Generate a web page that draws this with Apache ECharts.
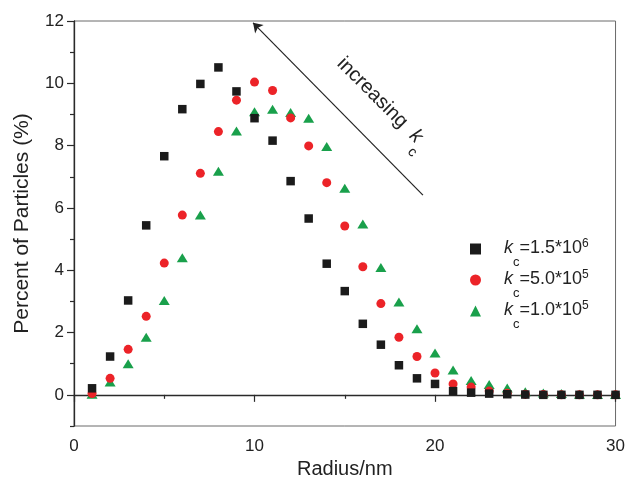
<!DOCTYPE html>
<html>
<head>
<meta charset="utf-8">
<script src="https://cdn.jsdelivr.net/npm/echarts@6/dist/echarts.min.js"></script>
<style>
  html, body { margin: 0; padding: 0; background: #fff; }
  #chart { width: 628px; height: 486px; }
</style>
</head>
<body>
<div id="chart"></div>
<script>
// Radius (nm) of each size bin
const radius = [1, 2, 3, 4, 5, 6, 7, 8, 9, 10, 11, 12, 13, 14, 15, 16, 17, 18, 19, 20,
                21, 22, 23, 24, 25, 26, 27, 28, 29, 30];

// Percent of particles for each coagulation constant k_c
const pctKc15e6 = [0.21, 1.23, 3.03, 5.44, 7.66, 9.17, 9.98, 10.51, 9.74, 8.88, 8.16, 6.86, 5.66, 4.21, 3.33,
                   2.28, 1.61, 0.95, 0.53, 0.35, 0.12, 0.07, 0.04, 0.02, 0.01, 0.0, 0.0, 0.0, 0.0, 0.0];
const pctKc50e5 = [0.04, 0.53, 1.46, 2.52, 4.23, 5.77, 7.11, 8.45, 9.46, 10.04, 9.77, 8.89, 7.99, 6.81, 5.42,
                   4.11, 2.93, 1.85, 1.23, 0.70, 0.35, 0.25, 0.12, 0.05, 0.02, 0.01, 0.0, 0.0, 0.0, 0.0];
const pctKc10e5 = [0.02, 0.41, 1.00, 1.85, 3.03, 4.40, 5.77, 7.18, 8.47, 9.09, 9.17, 9.06, 8.88, 7.97, 6.63,
                   5.48, 4.09, 2.98, 2.12, 1.34, 0.80, 0.46, 0.33, 0.22, 0.10, 0.06, 0.04, 0.02, 0.01, 0.01];

// Legend text pieces: k_c = mantissa * 10^exponent
const seriesNames = ['kc=1.5e6', 'kc=5.0e5', 'kc=1.0e5'];
const kcMantissa = ['1.5', '5.0', '1.0'];
const kcExponent = ['6', '5', '5'];

// Axis ticks
const yMajorTicks = [0, 2, 4, 6, 8, 10, 12];
const yMinorTicks = [-1, 1, 3, 5, 7, 9, 11];

// Arrow annotation: from tail to head, in data coordinates
const arrowTail = [19.33, 6.41];
const arrowHead = [9.92, 11.94];
const arrowLabelAt = [17.0, 9.33];

const FONT = 'Liberation Sans, Arial, Helvetica, sans-serif';
const AXIS_COLOR = '#2a2a2a';

function pairs(ys) { return radius.map((x, i) => [x, ys[i]]); }

const legendRich = {
  k:   { fontFamily: FONT, fontSize: 18, fontStyle: 'italic', color: '#222', lineHeight: 22, verticalAlign: 'top', padding: [1, 0, 0, 18] },
  sub: { fontFamily: FONT, fontSize: 13, color: '#222', lineHeight: 13, verticalAlign: 'top', padding: [18, 0, 0, 0] },
  n:   { fontFamily: FONT, fontSize: 18, color: '#222', lineHeight: 22, verticalAlign: 'top', padding: [1, 0, 0, 0] },
  sup: { fontFamily: FONT, fontSize: 12, color: '#222', lineHeight: 10, verticalAlign: 'top', padding: [0, 0, 0, 0] }
};

const chart = echarts.init(document.getElementById('chart'), null, { renderer: 'canvas' });

chart.setOption({
  backgroundColor: '#ffffff',
  animation: false,
  grid: {
    left: 74, right: 12, top: 21, bottom: 60,
    containLabel: false,
    show: true,
    borderColor: '#6a6a6a',
    borderWidth: 1
  },
  legend: {
    orient: 'vertical',
    left: 465,
    top: 233,
    itemWidth: 11,
    itemHeight: 11,
    itemGap: 0,
    data: seriesNames,
    formatter: function (name) {
      const i = seriesNames.indexOf(name);
      return '{k|k}{sub|c}{n|=' + kcMantissa[i] + '*10}{sup|' + kcExponent[i] + '}';
    },
    textStyle: { rich: legendRich }
  },
  xAxis: {
    type: 'value',
    min: 0, max: 30, interval: 10,
    name: 'Radius/nm',
    nameLocation: 'middle',
    nameGap: 33,
    nameTextStyle: { fontFamily: FONT, fontSize: 20, color: '#222' },
    axisLine: { show: true, lineStyle: { color: AXIS_COLOR, width: 1.3 } },
    axisTick: { show: true, inside: false, length: 7, lineStyle: { color: AXIS_COLOR, width: 1.2 } },
    minorTick: { show: true, splitNumber: 2, length: 4, lineStyle: { color: AXIS_COLOR, width: 1.2 } },
    axisLabel: { fontFamily: FONT, fontSize: 17, color: '#222', margin: 12 },
    splitLine: { show: false }
  },
  yAxis: [
    {
      type: 'value',
      min: -1, max: 12,
      name: 'Percent of Particles (%)',
      nameLocation: 'middle',
      nameGap: 41,
      nameTextStyle: { fontFamily: FONT, fontSize: 21, color: '#222' },
      axisLine: { show: true, onZero: false, lineStyle: { color: AXIS_COLOR, width: 1.3 } },
      axisTick: { show: true, inside: false, length: 7, customValues: yMajorTicks, lineStyle: { color: AXIS_COLOR, width: 1.2 } },
      axisLabel: { fontFamily: FONT, fontSize: 17, color: '#222', margin: 10, customValues: yMajorTicks },
      splitLine: { show: false }
    },
    {
      type: 'value',
      min: -1, max: 12,
      position: 'left',
      axisLine: { show: false },
      axisTick: { show: true, inside: false, length: 4, customValues: yMinorTicks, lineStyle: { color: AXIS_COLOR, width: 1.2 } },
      axisLabel: { show: false },
      splitLine: { show: false }
    }
  ],
  series: [
    {
      name: seriesNames[2],
      type: 'scatter',
      data: pairs(pctKc10e5),
      symbol: 'triangle',
      symbolSize: [11, 9],
      itemStyle: { color: '#19a04b', opacity: 1 },
      markLine: {
        silent: true,
        symbol: ['none', 'arrow'],
        symbolSize: 9,
        label: { show: false },
        lineStyle: { color: '#222', width: 1.2, type: 'solid', opacity: 1 },
        emphasis: { disabled: true },
        data: [[{ coord: arrowTail }, { coord: arrowHead }]]
      },
      markPoint: {
        silent: true,
        symbol: 'circle',
        symbolSize: 0,
        data: [{ coord: arrowLabelAt }],
        label: {
          show: true,
          position: 'inside',
          rotate: -45,
          formatter: '{t|increasing  }{k|k}{sub|c}',
          rich: {
            t:   { fontFamily: FONT, fontSize: 20, color: '#222', lineHeight: 24, verticalAlign: 'top' },
            k:   { fontFamily: FONT, fontSize: 20, fontStyle: 'italic', color: '#222', lineHeight: 24, verticalAlign: 'top' },
            sub: { fontFamily: FONT, fontSize: 14, color: '#222', lineHeight: 14, verticalAlign: 'top', padding: [17, 0, 0, 0] }
          }
        }
      }
    },
    {
      name: seriesNames[1],
      type: 'scatter',
      data: pairs(pctKc50e5),
      symbol: 'circle',
      symbolSize: 9,
      itemStyle: { color: '#ec2328', opacity: 1 }
    },
    {
      name: seriesNames[0],
      type: 'scatter',
      data: pairs(pctKc15e6),
      symbol: 'rect',
      symbolSize: 8.5,
      itemStyle: { color: '#1b1b1b', opacity: 1 }
    }
  ]
});
</script>
</body>
</html>
